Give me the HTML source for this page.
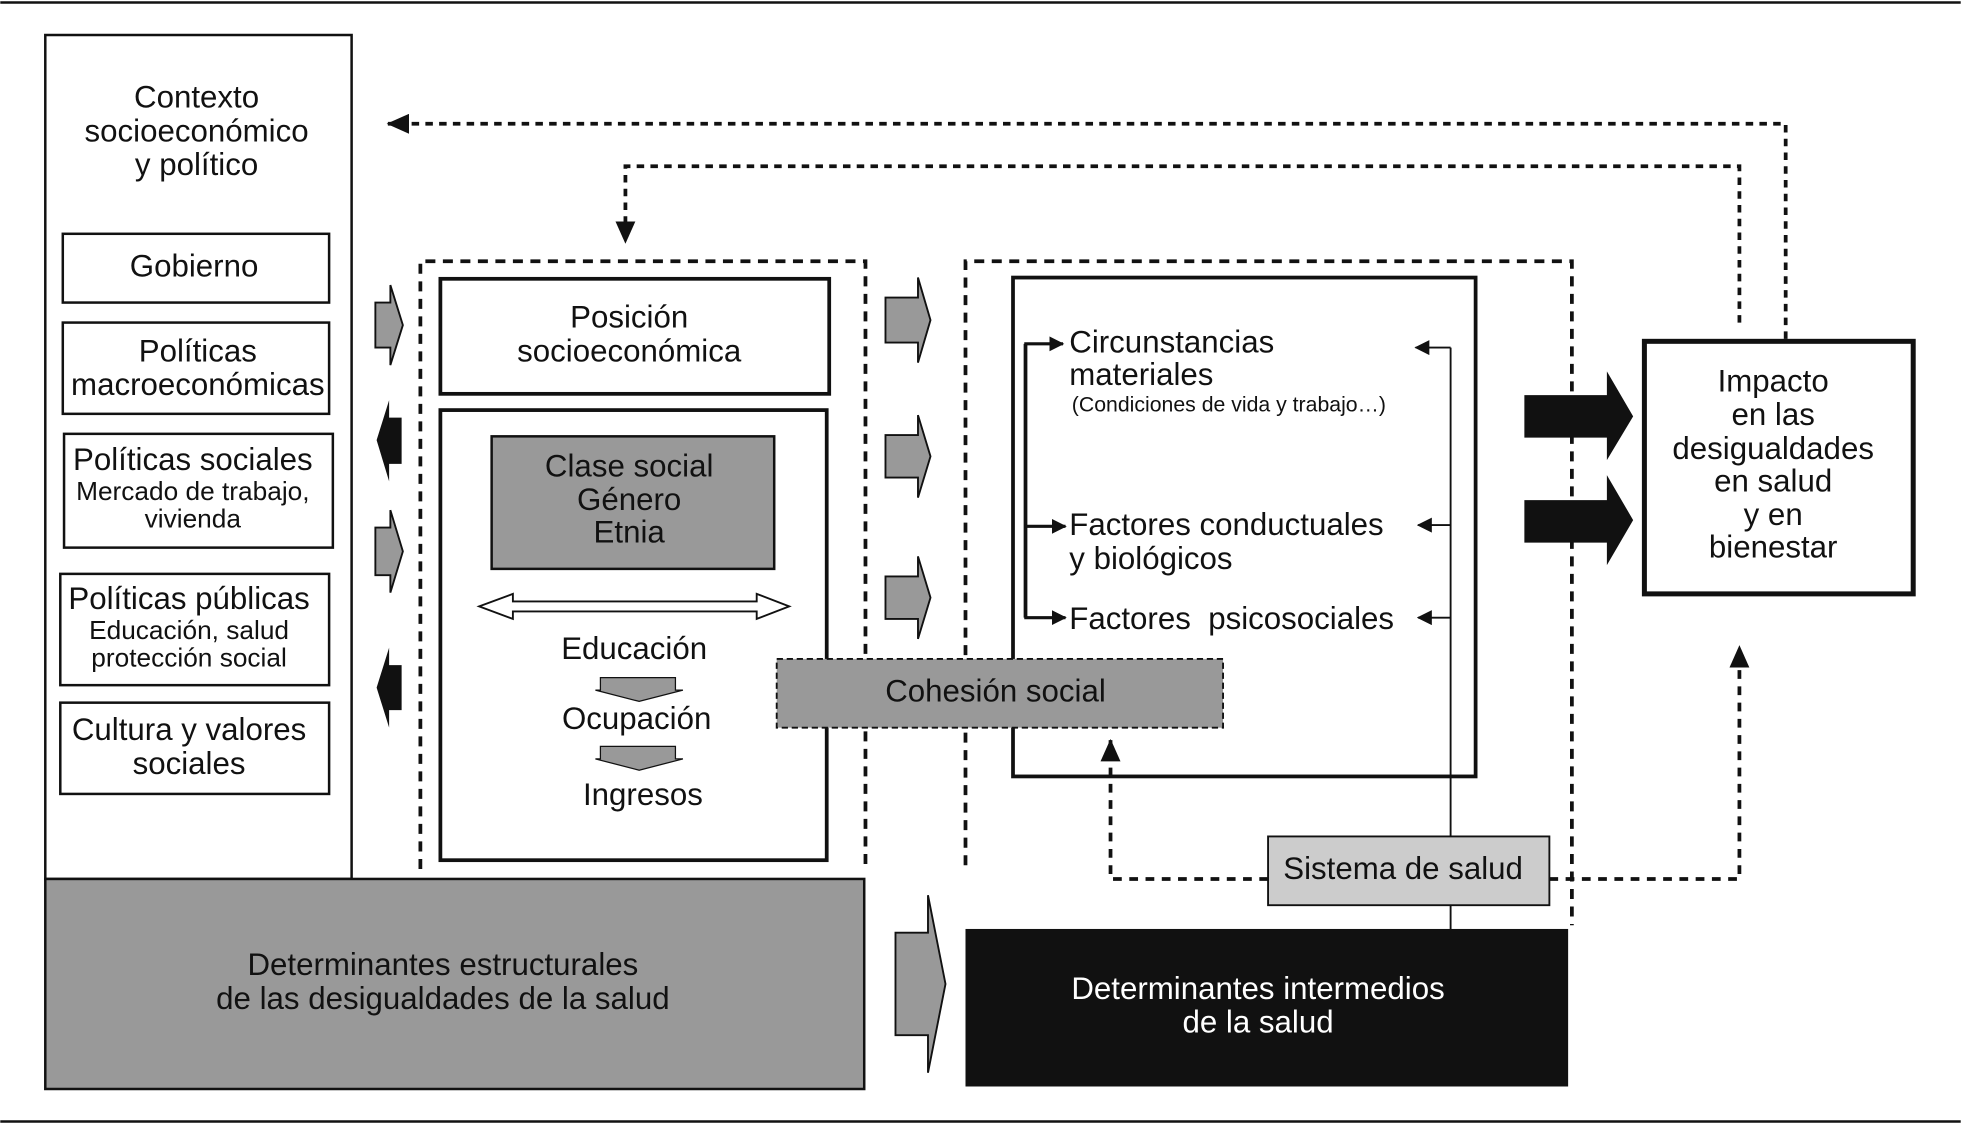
<!DOCTYPE html>
<html><head><meta charset="utf-8"><style>
html,body{margin:0;padding:0;background:#fff}
svg{display:block}
text{font-family:"Liberation Sans",sans-serif;fill:#111}
</style></head><body>
<svg width="1961" height="1124" viewBox="0 0 1568 899" xmlns="http://www.w3.org/2000/svg">
<defs>
<marker id="ah" markerWidth="12" markerHeight="12" refX="11" refY="6" orient="auto" markerUnits="userSpaceOnUse"><path d="M0,0 L12,6 L0,12 z" fill="#111"/></marker>
<marker id="ahb" markerWidth="18" markerHeight="16" refX="17" refY="8" orient="auto" markerUnits="userSpaceOnUse"><path d="M0,0 L18,8 L0,16 z" fill="#111"/></marker>
</defs>
<line x1="0" y1="2" x2="1568" y2="2" stroke="#111" stroke-width="2"/>
<line x1="0" y1="897" x2="1568" y2="897" stroke="#111" stroke-width="2"/>

<rect x="36" y="28" width="245" height="675" fill="#fff" stroke="#111" stroke-width="2"/>
<g font-size="25" text-anchor="middle">
<text x="157" y="86">Contexto</text>
<text x="157" y="113">socioeconómico</text>
<text x="157" y="140">y político</text>
</g>
<rect x="50" y="187" width="213" height="55" fill="#fff" stroke="#111" stroke-width="2"/>
<text x="155" y="221" font-size="25" text-anchor="middle">Gobierno</text>
<rect x="50" y="258" width="213" height="73" fill="#fff" stroke="#111" stroke-width="2"/>
<text x="158" y="289" font-size="25" text-anchor="middle">Políticas</text>
<text x="158" y="316" font-size="25" text-anchor="middle">macroeconómicas</text>
<rect x="51" y="347" width="215" height="91" fill="#fff" stroke="#111" stroke-width="2"/>
<text x="154" y="376" font-size="25" text-anchor="middle">Políticas sociales</text>
<text x="154" y="400" font-size="21" text-anchor="middle">Mercado de trabajo,</text>
<text x="154" y="422" font-size="21" text-anchor="middle">vivienda</text>
<rect x="48" y="459" width="215" height="89" fill="#fff" stroke="#111" stroke-width="2"/>
<text x="151" y="487" font-size="25" text-anchor="middle">Políticas públicas</text>
<text x="151" y="511" font-size="21" text-anchor="middle">Educación, salud</text>
<text x="151" y="533" font-size="21" text-anchor="middle">protección social</text>
<rect x="48" y="562" width="215" height="73" fill="#fff" stroke="#111" stroke-width="2"/>
<text x="151" y="592" font-size="25" text-anchor="middle">Cultura y valores</text>
<text x="151" y="619" font-size="25" text-anchor="middle">sociales</text>

<rect x="36" y="703" width="655" height="168" fill="#999" stroke="#111" stroke-width="2"/>
<text x="354" y="780" font-size="25" text-anchor="middle">Determinantes estructurales</text>
<text x="354" y="807" font-size="25" text-anchor="middle">de las desigualdades de la salud</text>

<path d="M300,242 L312,242 L312,228 L322,260 L312,292 L312,278 L300,278 z" fill="#999" stroke="#111" stroke-width="1.5"/>
<path d="M300,422 L312,422 L312,408 L322,441 L312,474 L312,460 L300,460 z" fill="#999" stroke="#111" stroke-width="1.5"/>
<path d="M321,334 L311,334 L311,320 L301,352 L311,385 L311,371 L321,371 z" fill="#111"/>
<path d="M321,532 L311,532 L311,518 L301,550 L311,582 L311,568 L321,568 z" fill="#111"/>

<path d="M336,695 L336,209 L692,209 L692,695" fill="none" stroke="#111" stroke-width="3" stroke-dasharray="8,6"/>
<rect x="352" y="223" width="311" height="92" fill="#fff" stroke="#111" stroke-width="3"/>
<text x="503" y="262" font-size="25" text-anchor="middle">Posición</text>
<text x="503" y="289" font-size="25" text-anchor="middle">socioeconómica</text>
<rect x="352" y="328" width="309" height="360" fill="#fff" stroke="#111" stroke-width="3"/>
<rect x="393" y="349" width="226" height="106" fill="#999" stroke="#111" stroke-width="2"/>
<g font-size="25" text-anchor="middle"><text x="503" y="381">Clase social</text><text x="503" y="408">Género</text><text x="503" y="434">Etnia</text></g>
<path d="M383,485 L410,475 L410,481 L605,481 L605,475 L631,485 L605,495 L605,489 L410,489 L410,495 z" fill="#fff" stroke="#111" stroke-width="1.5"/>
<text x="507" y="527" font-size="25" text-anchor="middle">Educación</text>
<path d="M480,542 L540,542 L540,552 L546,552 L511,561 L476,552 L480,552 z" fill="#999" stroke="#111" stroke-width="1"/>
<text x="509" y="583" font-size="25" text-anchor="middle">Ocupación</text>
<path d="M480,597 L540,597 L540,607 L546,607 L511,616 L476,607 L480,607 z" fill="#999" stroke="#111" stroke-width="1"/>
<text x="514" y="644" font-size="25" text-anchor="middle">Ingresos</text>

<path d="M708,238 L734,238 L734,222 L744,256 L734,290 L734,274 L708,274 z" fill="#999" stroke="#111" stroke-width="1.5"/>
<path d="M708,348 L734,348 L734,332 L744,365 L734,398 L734,382 L708,382 z" fill="#999" stroke="#111" stroke-width="1.5"/>
<path d="M708,461 L734,461 L734,445 L744,478 L734,511 L734,495 L708,495 z" fill="#999" stroke="#111" stroke-width="1.5"/>
<path d="M716,746 L742,746 L742,716 L756,787 L742,858 L742,828 L716,828 z" fill="#999" stroke="#111" stroke-width="1.5"/>

<path d="M772,692 L772,209 L1257,209 L1257,740" fill="none" stroke="#111" stroke-width="3" stroke-dasharray="8,6"/>
<rect x="810" y="222" width="370" height="399" fill="#fff" stroke="#111" stroke-width="3"/>
<text x="855" y="282" font-size="25">Circunstancias</text>
<text x="855" y="308" font-size="25">materiales</text>
<text x="857" y="329" font-size="17">(Condiciones de vida y trabajo…)</text>
<text x="855" y="428" font-size="25">Factores conductuales</text>
<text x="855" y="455" font-size="25">y biológicos</text>
<text x="855" y="503" font-size="25" xml:space="preserve">Factores  psicosociales</text>
<path d="M820,275 L820,494" stroke="#111" stroke-width="3"/>
<line x1="819" y1="275" x2="850" y2="275" stroke="#111" stroke-width="2.5" marker-end="url(#ah)"/>
<line x1="819" y1="421" x2="852" y2="421" stroke="#111" stroke-width="2.5" marker-end="url(#ah)"/>
<line x1="819" y1="494" x2="852" y2="494" stroke="#111" stroke-width="2.5" marker-end="url(#ah)"/>
<path d="M1160,278 L1160,743" stroke="#111" stroke-width="1.5"/>
<line x1="1160" y1="278" x2="1132" y2="278" stroke="#111" stroke-width="1.5" marker-end="url(#ah)"/>
<line x1="1160" y1="420" x2="1134" y2="420" stroke="#111" stroke-width="1.5" marker-end="url(#ah)"/>
<line x1="1160" y1="494" x2="1134" y2="494" stroke="#111" stroke-width="1.5" marker-end="url(#ah)"/>

<rect x="621" y="527" width="357" height="55" fill="#999" stroke="#111" stroke-width="1.5" stroke-dasharray="5,3"/>
<text x="796" y="561" font-size="25" text-anchor="middle">Cohesión social</text>

<path d="M1014,703 L888,703 L888,592" fill="none" stroke="#111" stroke-width="3" stroke-dasharray="7,6" marker-end="url(#ahb)"/>
<path d="M1239,703 L1391,703 L1391,517" fill="none" stroke="#111" stroke-width="3" stroke-dasharray="7,6" marker-end="url(#ahb)"/>
<rect x="1014" y="669" width="225" height="55" fill="#ccc" stroke="#111" stroke-width="1.5"/>
<text x="1122" y="703" font-size="25" text-anchor="middle">Sistema de salud</text>

<rect x="772" y="743" width="482" height="126" fill="#111"/>
<text x="1006" y="799" font-size="25" text-anchor="middle" style="fill:#fff">Determinantes intermedios</text>
<text x="1006" y="826" font-size="25" text-anchor="middle" style="fill:#fff">de la salud</text>

<path d="M1219,316 L1285,316 L1285,297 L1306,333 L1285,368 L1285,350 L1219,350 z" fill="#111"/>
<path d="M1219,400 L1285,400 L1285,380 L1306,416 L1285,452 L1285,434 L1219,434 z" fill="#111"/>
<rect x="1315" y="273" width="215" height="202" fill="#fff" stroke="#111" stroke-width="4"/>
<g font-size="25" text-anchor="middle"><text x="1418" y="313">Impacto</text><text x="1418" y="340">en las</text><text x="1418" y="367">desigualdades</text><text x="1418" y="393">en salud</text><text x="1418" y="420">y en</text><text x="1418" y="446">bienestar</text></g>

<path d="M1428,271 L1428,99 L310,99" fill="none" stroke="#111" stroke-width="3" stroke-dasharray="6,5" marker-end="url(#ahb)"/>
<path d="M1391,258 L1391,133 L500,133 L500,194" fill="none" stroke="#111" stroke-width="3" stroke-dasharray="6,5" marker-end="url(#ahb)"/>
</svg>
</body></html>
